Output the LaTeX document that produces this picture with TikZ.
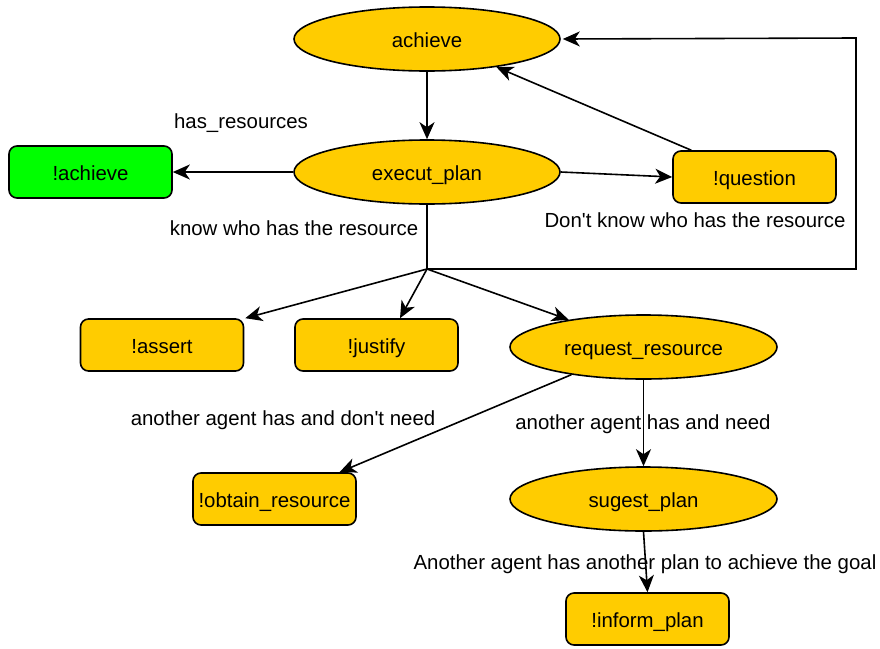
\documentclass[tikz,border=0pt]{standalone}
\usepackage{fontspec}
\setmainfont{Liberation Sans}
\usetikzlibrary{shapes.geometric,arrows.meta}
\definecolor{ylw}{HTML}{FFCC00}
\definecolor{grn}{HTML}{00FF00}
\tikzset{
  txt/.style={font=\fontsize{20.4}{24}\selectfont,text height=16pt,text depth=0pt},
  ell/.style={ellipse,draw,fill=ylw,line width=1.6pt,minimum width=266pt,minimum height=64pt,inner sep=0pt,txt},
  rbox/.style={rectangle,rounded corners=8pt,draw,fill=ylw,line width=1.6pt,minimum width=163pt,minimum height=52pt,inner sep=0pt,txt},
  lbl/.style={inner sep=0pt,txt},
  arr/.style={line width=1.6pt,-{Stealth[length=17pt,width=15pt,inset=5pt]}},
  ln/.style={line width=1.6pt}
}
\begin{document}
\begin{tikzpicture}[x=1pt,y=-1pt]
\useasboundingbox (0,0) rectangle (880,648);
\node[ell] (achieve) at (427,39) {achieve};
\node[ell] (exec) at (427,172) {execut\_plan};
\node[rbox,fill=grn] (bach) at (90.5,172) {!achieve};
\node[rbox] (question) at (754.5,177) {!question};
\node[rbox] (assert) at (162,345) {!assert};
\node[rbox] (justify) at (376.5,345) {!justify};
\node[ell,minimum width=267pt] (request) at (643.5,347) {request\_resource};
\node[rbox] (obtain) at (274.5,499) {!obtain\_resource};
\node[ell,minimum width=267pt] (sugest) at (643.5,499) {sugest\_plan};
\node[rbox] (inform) at (647.5,619) {!inform\_plan};
\coordinate (J) at (427,269);
\coordinate (C1) at (856,269);
\coordinate (C2) at (856,38);
\node[lbl] (l1) at (241,120) {has\_resources};
\node[lbl] (l2) at (294,227) {know who has the resource};
\node[lbl] (l3) at (695,219) {Don\textquotesingle t know who has the resource};
\node[lbl] (l4) at (283,417) {another agent has and don\textquotesingle t need};
\node[lbl] (l5) at (643,421) {another agent has and need};
\node[lbl] (l6) at (645,561) {Another agent has another plan to achieve the goal};
\draw[arr] (achieve.south) -- (exec.north);
\draw[arr] (exec.west) -- (bach.east);
\draw[arr] (exec.east) -- (question.west);
\draw[arr] ([xshift=19pt]question.north west) -- (achieve.-22);
\draw[ln] (exec.south) -- (J);
\draw[arr] (J) -- (C1) -- (C2) -- ([xshift=2pt]achieve.east);
\draw[arr] (J) -- ([xshift=1pt]assert.north east);
\draw[arr] (J) -- ([xshift=23.5pt]justify.north);
\draw[arr] (J) -- (request.160);
\draw[arr] (request.201) -- ([xshift=65pt]obtain.north);
\draw[arr] (request.south) -- (sugest.north);
\draw[arr] (sugest.south) -- (inform.north);
\end{tikzpicture}
\end{document}
